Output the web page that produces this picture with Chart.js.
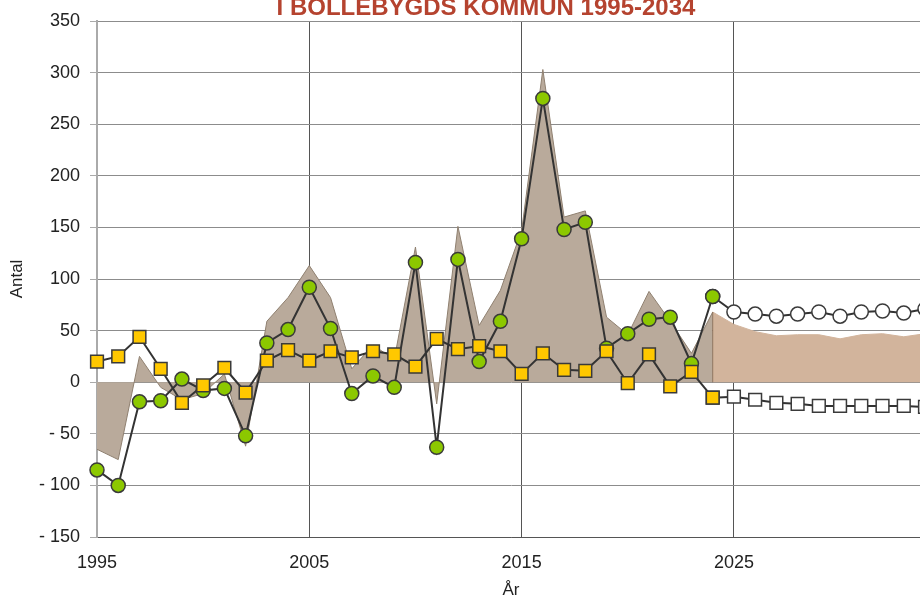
<!DOCTYPE html>
<html>
<head>
<meta charset="utf-8">
<script src="https://cdn.jsdelivr.net/npm/chart.js@4.4.1/dist/chart.umd.min.js"></script>
<style>
  html, body { margin: 0; padding: 0; background: #fff; overflow: hidden; }
  #wrap { position: absolute; left: 0; top: 0; width: 940px; height: 598px; }
</style>
</head>
<body>
<div id="wrap"><canvas id="myChart" width="940" height="598"></canvas></div>
<script>
// historical years 1995-2024
var histYears = [1995,1996,1997,1998,1999,2000,2001,2002,2003,2004,2005,2006,2007,2008,2009,
                 2010,2011,2012,2013,2014,2015,2016,2017,2018,2019,2020,2021,2022,2023,2024];
// flyttnetto (green circles)
var flyttnetto = [-85,-100,-19,-18,3,-8,-6,-52,38,51,92,52,-11,6,-5,
                  116,-63,119,20,59,139,275,148,155,33,47,61,63,18,83];
// födelseöverskott (yellow squares)
var fodelseoverskott = [20,25,44,13,-20,-3,14,-10,21,31,21,30,24,30,27,
                        15,42,32,35,30,8,28,12,11,30,-1,27,-4,10,-15];
// total förändring (area)
var forandring = [-65,-75,25,-5,-17,-11,8,-62,59,82,113,82,13,36,22,
                  131,-21,151,55,89,147,303,160,166,63,46,88,59,28,68];

// prognos 2024-2034
var progYears = [2024,2025,2026,2027,2028,2029,2030,2031,2032,2033,2034];
var progFlytt = [83,68,66,64,66,68,64,68,69,67,71];
var progFodel = [-15,-14,-17,-20,-21,-23,-23,-23,-23,-23,-24];
var progForandring = [68,56,49,45,46,46,42,46,47,44,47];

var xTicks = [1995, 2005, 2015, 2025];
var titleText = 'I BOLLEBYGDS KOMMUN 1995-2034';

function pts(xs, ys) {
    return xs.map(function (x, i) { return {x: x, y: ys[i]}; });
}

var font = "'Liberation Sans', Arial, sans-serif";

var titlePlugin = {
    id: 'cutTitle',
    afterDraw: function (chart) {
        var c = chart.ctx;
        c.save();
        c.fillStyle = '#b5432f';
        c.font = "bold 24px 'Liberation Sans Narrow', 'Liberation Sans', sans-serif";
        c.textAlign = 'center';
        c.textBaseline = 'alphabetic';
        c.fillText(titleText, 486, 15);
        c.restore();
    }
};

var ctx = document.getElementById('myChart');
var chart = new Chart(ctx, {
    type: 'line',
    data: {
        datasets: [
            {   // history squares on top
                data: pts(histYears, fodelseoverskott),
                borderColor: '#333333', borderWidth: 2,
                pointStyle: 'rect', pointRadius: 9, pointBorderWidth: 1.5,
                pointBackgroundColor: '#ffc800', pointBorderColor: '#3a3a3a',
                fill: false, tension: 0, clip: false
            },
            {   // history circles
                data: pts(histYears, flyttnetto),
                borderColor: '#333333', borderWidth: 2,
                pointStyle: 'circle', pointRadius: 7, pointBorderWidth: 1.5,
                pointBackgroundColor: '#8cc800', pointBorderColor: '#3a3a3a',
                fill: false, tension: 0, clip: false
            },
            {   // prognosis squares
                data: pts(progYears, progFodel),
                borderColor: '#333333', borderWidth: 2,
                pointStyle: 'rect', pointRadius: 9, pointBorderWidth: 1.5,
                pointBackgroundColor: '#ffffff', pointBorderColor: '#3a3a3a',
                fill: false, tension: 0, clip: false
            },
            {   // prognosis circles
                data: pts(progYears, progFlytt),
                borderColor: '#333333', borderWidth: 2,
                pointStyle: 'circle', pointRadius: 7, pointBorderWidth: 1.5,
                pointBackgroundColor: '#ffffff', pointBorderColor: '#3a3a3a',
                fill: false, tension: 0, clip: false
            },
            {   // edge between history and prognosis area
                data: [{x: progYears[0], y: 0}, {x: progYears[0], y: progForandring[0]}],
                borderColor: '#8a6e58', borderWidth: 1,
                pointRadius: 0, fill: false
            },
            {   // prognosis area
                data: pts(progYears, progForandring),
                borderColor: '#d2b49c', borderWidth: 1,
                backgroundColor: '#d2b49c',
                pointRadius: 0, fill: 'origin', tension: 0
            },
            {   // history area
                data: pts(histYears, forandring),
                borderColor: '#8f8070', borderWidth: 1,
                backgroundColor: '#b9aa9b',
                pointRadius: 0, fill: 'origin', tension: 0
            }
        ]
    },
    options: {
        responsive: false,
        animation: false,
        layout: { padding: { top: 21, right: 15, left: 0, bottom: 0 } },
        plugins: {
            legend: { display: false },
            tooltip: { enabled: false },
            title: { display: false }
        },
        scales: {
            x: {
                type: 'linear',
                min: 1995, max: 2034,
                afterBuildTicks: function (s) {
                    s.ticks = xTicks.map(function (v) { return {value: v}; });
                },
                afterFit: function (s) { s.height = 61; },
                grid: { color: '#555555', lineWidth: 1, drawTicks: false },
                border: { color: '#555555', width: 1 },
                ticks: {
                    color: '#222', padding: 15,
                    font: { family: font, size: 18 },
                    maxRotation: 0,
                    callback: function (v) { return String(v); }
                },
                title: {
                    display: true, text: 'År', color: '#222',
                    font: { family: font, size: 17 },
                    padding: { top: 0, bottom: -3 }
                }
            },
            y: {
                min: -150, max: 350,
                afterFit: function (s) { s.width = 97; },
                grid: { color: '#8c8c8c', lineWidth: 1, tickLength: 7, tickColor: '#aaaaaa' },
                border: { color: '#aaaaaa', width: 2 },
                ticks: {
                    stepSize: 50, color: '#222', padding: 10,
                    font: { family: font, size: 18 },
                    callback: function (v) { return v < 0 ? '- ' + Math.abs(v) : String(v); }
                },
                title: {
                    display: true, text: 'Antal', color: '#222',
                    font: { family: font, size: 17 },
                    padding: { top: 7, bottom: 0 }
                }
            }
        }
    },
    plugins: [titlePlugin]
});
</script>
</body>
</html>
